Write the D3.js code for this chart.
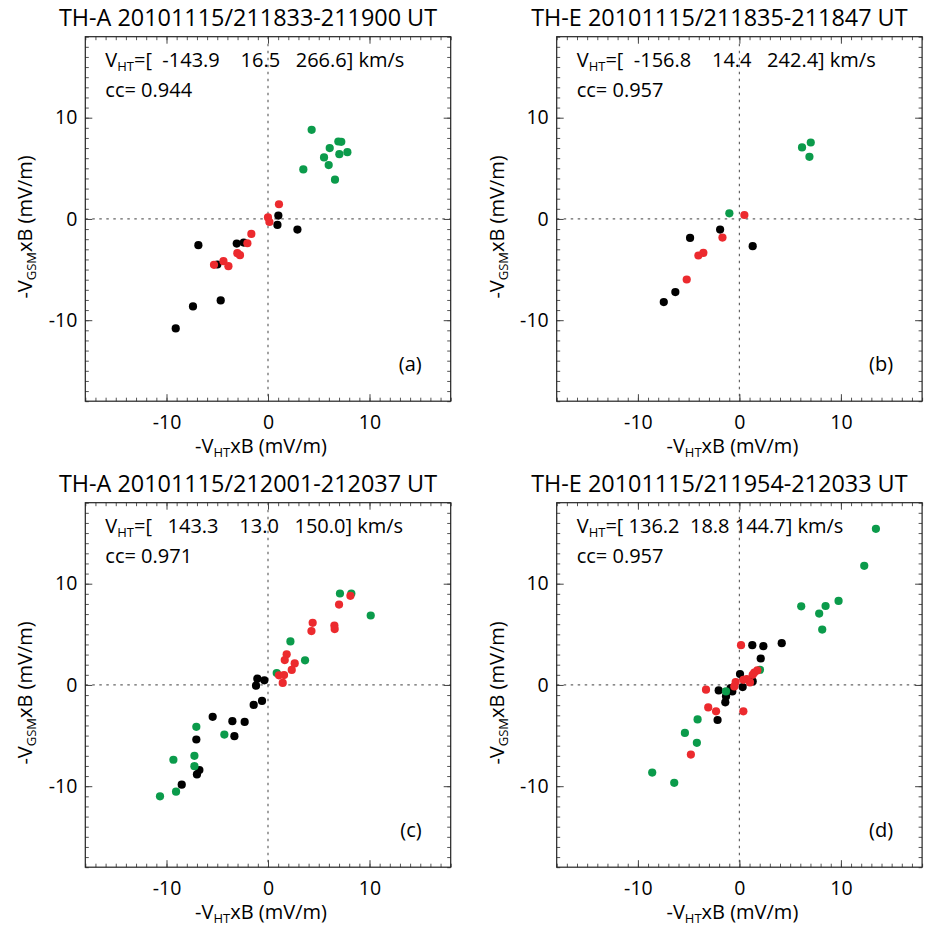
<!DOCTYPE html>
<html>
<head>
<meta charset="utf-8">
<script src="https://cdn.jsdelivr.net/npm/d3@7"></script>
<style>
  body { margin: 0; background: #fff; }
  text { font-family: "Open Sans", "Noto Sans", sans-serif; fill: #000; }
</style>
</head>
<body>
<script>
// panel texts
const titles = [
  "TH-A 20101115/211833-211900 UT",
  "TH-E 20101115/211835-211847 UT",
  "TH-A 20101115/212001-212037 UT",
  "TH-E 20101115/211954-212033 UT"
];
const vhtText = [
  "=[  -143.9    16.5   266.6] km/s",
  "=[  -156.8    14.4   242.4] km/s",
  "=[   143.3    13.0   150.0] km/s",
  "=[ 136.2  18.8 144.7] km/s"
];
const ccText = ["0.944", "0.957", "0.971", "0.957"];
const panelTags = ["(a)", "(b)", "(c)", "(d)"];

const axisDomain = [-18, 18];
const majorTicks = [-10, 0, 10];
const minorTicks = d3.range(-18, 19);

// [-VHTxB, -VGSMxB] in mV/m
const blackA = [[1.02,0.33],[0.93,-0.59],[2.9,-1.05],[-3.08,-2.43],[-2.39,-2.33],[-6.86,-2.59],[-4.99,-4.5],[-4.66,-8.05],[-7.39,-8.64],[-9.09,-10.81]];
const redA = [[1.08,1.45],[0,0.15],[0.14,-0.3],[-1.64,-1.48],[-2.03,-2.4],[-3.02,-3.38],[-2.76,-3.58],[-4.39,-4.17],[-5.32,-4.53],[-3.9,-4.66]];
const greenA = [[4.3,8.8],[6.93,7.65],[7.22,7.62],[6.08,7.0],[5.52,6.08],[7.03,6.4],[7.82,6.6],[5.98,5.32],[3.48,4.89],[6.6,3.88]];

const blackB = [[-1.9,-1.05],[-4.86,-1.87],[1.31,-2.69],[-6.31,-7.22],[-7.45,-8.21]];
const redB = [[0.49,0.39],[-1.67,-1.84],[-3.55,-3.35],[-4.04,-3.61],[-5.19,-5.98]];
const greenB = [[6.17,7.06],[7.03,7.55],[6.9,6.14],[-0.99,0.56]];

const blackC = [[-1.05,0.62],[-0.36,0.46],[-1.18,-0.07],[-0.59,-1.58],[-1.41,-1.97],[-5.45,-3.15],[-3.51,-3.58],[-2.3,-3.65],[-3.31,-5.06],[-7.06,-5.39],[-6.76,-8.41],[-7.0,-8.84],[-8.5,-9.85]];
const redC = [[8.12,8.8],[7.0,7.94],[4.4,6.14],[4.28,5.32],[6.54,5.87],[6.57,5.52],[1.84,3.02],[1.65,2.46],[2.63,2.13],[2.34,1.48],[1.08,0.95],[1.58,0.98],[1.45,0.2]];
const greenC = [[7.09,9.03],[8.21,9.03],[10.12,6.86],[2.21,4.3],[3.65,2.43],[0.86,1.18],[-7.06,-4.14],[-4.3,-4.9],[-9.32,-7.39],[-7.25,-7.0],[-7.25,-8.02],[-9.06,-10.54],[-10.64,-11.0]];

const blackD = [[1.27,3.93],[2.36,3.83],[4.17,4.13],[2.1,2.61],[0.06,1.07],[0.32,-0.21],[1.31,0.35],[-0.7,-0.64],[-0.86,-0.3],[-2.04,-0.54],[-1.32,-1.13],[-1.39,-1.72],[-2.15,-3.46]];
const redD = [[0.16,3.93],[-3.29,-0.47],[-3.07,-2.22],[-2.3,-2.6],[0.39,-2.6],[-4.78,-6.88],[1.77,1.43],[1.47,1.23],[1.31,1.0],[0.72,0.58],[1.04,0.25],[0.39,0.51],[-0.37,0.28],[-0.5,-0.15]];
const greenD = [[13.45,15.42],[12.3,11.77],[6.09,7.77],[8.49,7.8],[9.77,8.3],[7.86,7.05],[8.16,5.47],[2.03,1.5],[-1.32,-0.64],[-4.12,-3.4],[-5.37,-4.74],[-4.19,-5.72],[-8.59,-8.65],[-6.42,-9.67]];

const panelSeries = [
  [blackA, greenA, redA],
  [blackB, greenB, redB],
  [blackC, greenC, redC],
  [blackD, greenD, redD]
];
const seriesColors = ["#000000", "#0b9b4b", "#ec2a2e"];

const width = 934, height = 928;
const plotW = 365.4, plotH = 364.5;
const plotLefts = [85.3, 556.7, 85.3, 556.7];
const plotTops = [36.7, 36.7, 502.7, 502.7];

const svg = d3.select("body").append("svg")
    .attr("width", width)
    .attr("height", height);

panelTags.forEach((tag, i) => {
    const g = svg.append("g")
        .attr("transform", `translate(${plotLefts[i]},${plotTops[i]})`);

    const x = d3.scaleLinear().domain(axisDomain).range([0, plotW]);
    const y = d3.scaleLinear().domain(axisDomain).range([plotH, 0]);

    // dotted zero lines
    g.append("line")
        .attr("x1", x(0)).attr("x2", x(0))
        .attr("y1", 0).attr("y2", plotH)
        .attr("stroke", "#666").attr("stroke-width", 1.2)
        .attr("stroke-dasharray", "2.5,4.5");
    g.append("line")
        .attr("x1", 0).attr("x2", plotW)
        .attr("y1", y(0)).attr("y2", y(0))
        .attr("stroke", "#666").attr("stroke-width", 1.2)
        .attr("stroke-dasharray", "2.5,4.5");

    // ticks on all 4 sides, pointing inward
    const makeAxis = [d3.axisBottom, d3.axisTop, d3.axisLeft, d3.axisRight];
    const trans = [`translate(0,${plotH})`, "translate(0,0)", "translate(0,0)", `translate(${plotW},0)`];
    makeAxis.forEach((mk, k) => {
        const sc = k < 2 ? x : y;
        g.append("g").attr("transform", trans[k])
            .call(mk(sc).tickValues(minorTicks).tickSize(-3.5).tickSizeOuter(0).tickFormat(""))
            .call(s => s.select(".domain").remove())
            .selectAll("line").attr("stroke", "#555");
        const labelled = k === 0 || k === 2;
        const mg = g.append("g").attr("transform", trans[k])
            .call(mk(sc).tickValues(majorTicks).tickSize(-7).tickSizeOuter(0)
                .tickPadding(k === 0 ? 13.5 : 8)
                .tickFormat(d => labelled ? String(d) : ""));
        mg.select(".domain").remove();
        mg.selectAll("line").attr("stroke", "#444");
        mg.selectAll("text")
            .attr("font-family", "'Open Sans', sans-serif")
            .attr("font-size", 19.5)
            .attr("fill", "#000");
    });

    // frame
    g.append("rect")
        .attr("width", plotW).attr("height", plotH)
        .attr("fill", "none").attr("stroke", "#222").attr("stroke-width", 1.2);

    // points
    panelSeries[i].forEach((pts, s) => {
        g.append("g").selectAll("circle")
            .data(pts)
            .join("circle")
            .attr("cx", d => x(d[0]))
            .attr("cy", d => y(d[1]))
            .attr("r", 4.1)
            .attr("fill", seriesColors[s]);
    });

    // title
    svg.append("text")
        .attr("x", plotLefts[i] + plotW / 2 - 20)
        .attr("y", plotTops[i] - 10.8)
        .attr("text-anchor", "middle")
        .attr("font-size", 23.4)
        .text(titles[i]);

    // V_HT annotation
    const vt = g.append("text")
        .attr("x", 20).attr("y", 30.6)
        .attr("font-size", 20)
        .style("white-space", "pre");
    vt.append("tspan").text("V");
    vt.append("tspan").attr("font-size", 13).attr("dy", 4).text("HT");
    vt.append("tspan").attr("dy", -4).text(vhtText[i]);

    g.append("text")
        .attr("x", 20).attr("y", 60)
        .attr("font-size", 20)
        .style("white-space", "pre")
        .text("cc= " + ccText[i]);

    g.append("text")
        .attr("x", plotW - 29).attr("y", plotH - 30)
        .attr("text-anchor", "end")
        .attr("font-size", 20)
        .text(tag);

    // x label
    const xl = g.append("text")
        .attr("x", plotW / 2 - 7).attr("y", plotH + 52)
        .attr("text-anchor", "middle")
        .attr("font-size", 20);
    xl.append("tspan").text("-V");
    xl.append("tspan").attr("font-size", 13).attr("dy", 4).text("HT");
    xl.append("tspan").attr("dy", -4).text("xB (mV/m)");

    // y label
    const yl = g.append("text")
        .attr("transform", `translate(-53,${plotH / 2 + 8}) rotate(-90)`)
        .attr("text-anchor", "middle")
        .attr("font-size", 20);
    yl.append("tspan").text("-V");
    yl.append("tspan").attr("font-size", 13).attr("dy", 4).text("GSM");
    yl.append("tspan").attr("dy", -4).text("xB (mV/m)");
});
</script>
</body>
</html>
